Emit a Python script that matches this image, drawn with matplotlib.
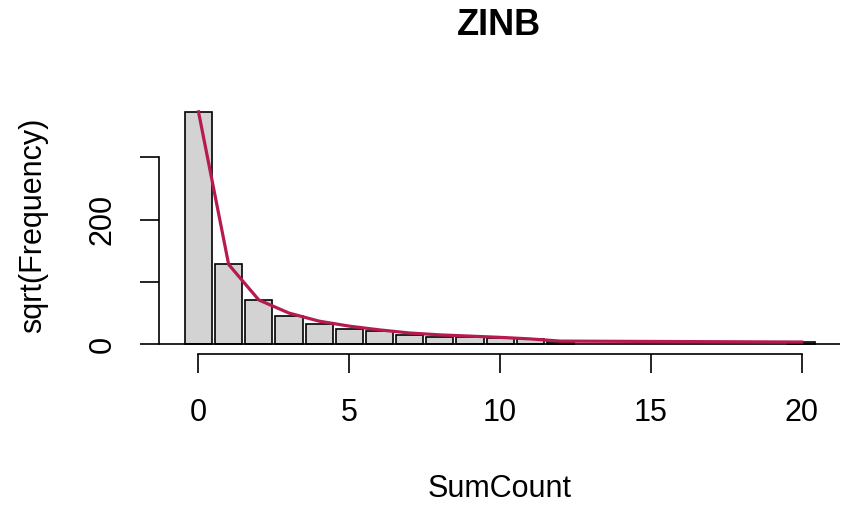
import matplotlib
matplotlib.use("Agg")
import matplotlib.pyplot as plt

plt.rcParams['font.family'] = ['Liberation Sans', 'DejaVu Sans']

# Count values present in the data
counts = [0, 1, 2, 3, 4, 5, 6, 7, 8, 9, 10, 11, 12, 20]
# Observed frequencies on the square-root scale
observed_sqrt = [373, 128.5, 71, 45.5, 32.5, 24.5, 22, 15, 11, 12, 10, 8, 3, 3]
# Fitted ZINB expected frequencies on the square-root scale
expected_sqrt = [373, 128, 71, 50, 37, 29, 23, 18, 15, 13, 11, 8.5, 5, 3.5]

x_ticks = [0, 5, 10, 15, 20]
y_ticks = [0, 100, 200, 300]
y_tick_labels = ['0', '', '200', '']

W, H = 847, 511
fig = plt.figure(figsize=(W / 100, H / 100), dpi=100)
left_px, right_px, top_px, bottom_px = 158.5, 840, 102.5, 353.5
ax = fig.add_axes([left_px / W, 1 - bottom_px / H,
                   (right_px - left_px) / W, (bottom_px - top_px) / H])

ax.bar(counts, observed_sqrt, width=0.9, color='#D3D3D3',
       edgecolor='black', linewidth=1.2, zorder=2)
ax.axhline(0, color='black', linewidth=1.2, zorder=3)
ax.plot(counts, expected_sqrt, color='#B61A51', linewidth=2.3, zorder=4)

ax.set_xlim(-1.326, 21.27)
ax.set_ylim(-14.9, 387.9)

for side in ('top', 'right'):
    ax.spines[side].set_visible(False)
ax.spines['left'].set_bounds(0, 300)
ax.spines['bottom'].set_bounds(0, 20)
for side in ('left', 'bottom'):
    ax.spines[side].set_linewidth(1.2)

ax.set_xticks(x_ticks)
ax.set_xticklabels([str(t) for t in x_ticks])
ax.set_yticks(y_ticks)
ax.set_yticklabels(y_tick_labels, rotation=90, va='center')

ax.tick_params(axis='both', length=13.7, width=1.2, labelsize=22)
ax.tick_params(axis='x', pad=18)
ax.tick_params(axis='y', pad=16)

ax_h = bottom_px - top_px
ax_w = right_px - left_px
ax.text(0.5, (bottom_px - 35) / ax_h, 'ZINB', transform=ax.transAxes,
        ha='center', va='baseline', fontsize=26, fontweight='bold')
ax.text(0.5, (bottom_px - 497) / ax_h, 'SumCount', transform=ax.transAxes,
        ha='center', va='baseline', fontsize=22)
ax.text((33 - left_px) / ax_w, 0.5 + (bottom_px - 225 - ax_h / 2) / ax_h,
        'sqrt(Frequency)', transform=ax.transAxes, rotation=90,
        ha='center', va='center', fontsize=22)

fig.savefig('out.png', dpi=100)
